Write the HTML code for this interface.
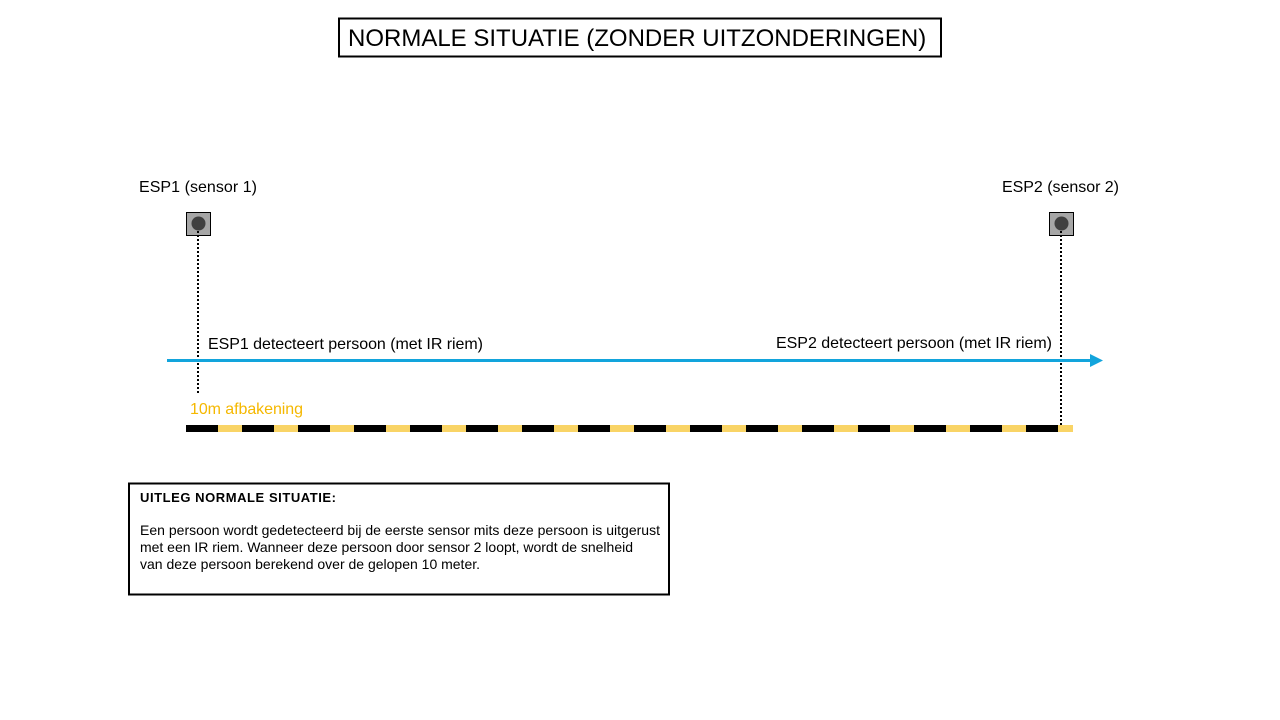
<!DOCTYPE html>
<html><head><meta charset="utf-8"><style>
body{margin:0;background:#fff;}
svg{display:block;font-family:"Liberation Sans",Arial,sans-serif;}
</style></head><body>
<svg width="1280" height="720" viewBox="0 0 1280 720" xmlns="http://www.w3.org/2000/svg">
<defs>
<pattern id="st" x="186" y="0" width="56" height="10" patternUnits="userSpaceOnUse">
<rect x="0" y="0" width="32" height="10" fill="#000"/>
<rect x="32" y="0" width="24" height="10" fill="#f9d466"/>
</pattern>
</defs>
<rect x="339" y="18.5" width="602" height="38" fill="#fff" stroke="#000" stroke-width="2"/>
<text x="348" y="46" font-size="24" fill="#000">NORMALE SITUATIE (ZONDER UITZONDERINGEN)</text>

<text x="139" y="192" font-size="16" textLength="118" fill="#000">ESP1 (sensor 1)</text>
<text x="1002" y="192" font-size="16" textLength="117" fill="#000">ESP2 (sensor 2)</text>

<rect x="186.5" y="212.5" width="24" height="23" fill="#a6a6a6" stroke="#000" stroke-width="1"/>
<circle cx="198.5" cy="223.5" r="7" fill="#404040"/>
<rect x="1049.5" y="212.5" width="24" height="23" fill="#a6a6a6" stroke="#000" stroke-width="1"/>
<circle cx="1061.5" cy="223.5" r="7" fill="#404040"/>

<line x1="198" y1="231" x2="198" y2="393" stroke="#000" stroke-width="2" stroke-dasharray="2,2"/>
<line x1="1061" y1="231" x2="1061" y2="425" stroke="#000" stroke-width="2" stroke-dasharray="2,2"/>

<line x1="167" y1="360.5" x2="1092" y2="360.5" stroke="#12a4dc" stroke-width="3"/>
<polygon points="1090,354 1103,360.5 1090,367" fill="#12a4dc"/>

<text x="208" y="349" font-size="16" textLength="275" fill="#000">ESP1 detecteert persoon (met IR riem)</text>
<text x="776" y="348" font-size="16" textLength="276" fill="#000">ESP2 detecteert persoon (met IR riem)</text>

<text x="190" y="414" font-size="16" textLength="113" fill="#f5b800">10m afbakening</text>
<rect x="186" y="425" width="887" height="7" fill="url(#st)"/>

<rect x="129" y="483.5" width="540" height="111" fill="#fff" stroke="#000" stroke-width="2"/>
<text x="140" y="502" font-size="13" font-weight="bold" textLength="196" fill="#000">UITLEG NORMALE SITUATIE:</text>
<text font-size="14" fill="#000">
<tspan x="140" y="535" textLength="520">Een persoon wordt gedetecteerd bij de eerste sensor mits deze persoon is uitgerust</tspan>
<tspan x="140" y="552" textLength="493">met een IR riem. Wanneer deze persoon door sensor 2 loopt, wordt de snelheid</tspan>
<tspan x="140" y="569" textLength="340">van deze persoon berekend over de gelopen 10 meter.</tspan>
</text>
</svg>
</body></html>
